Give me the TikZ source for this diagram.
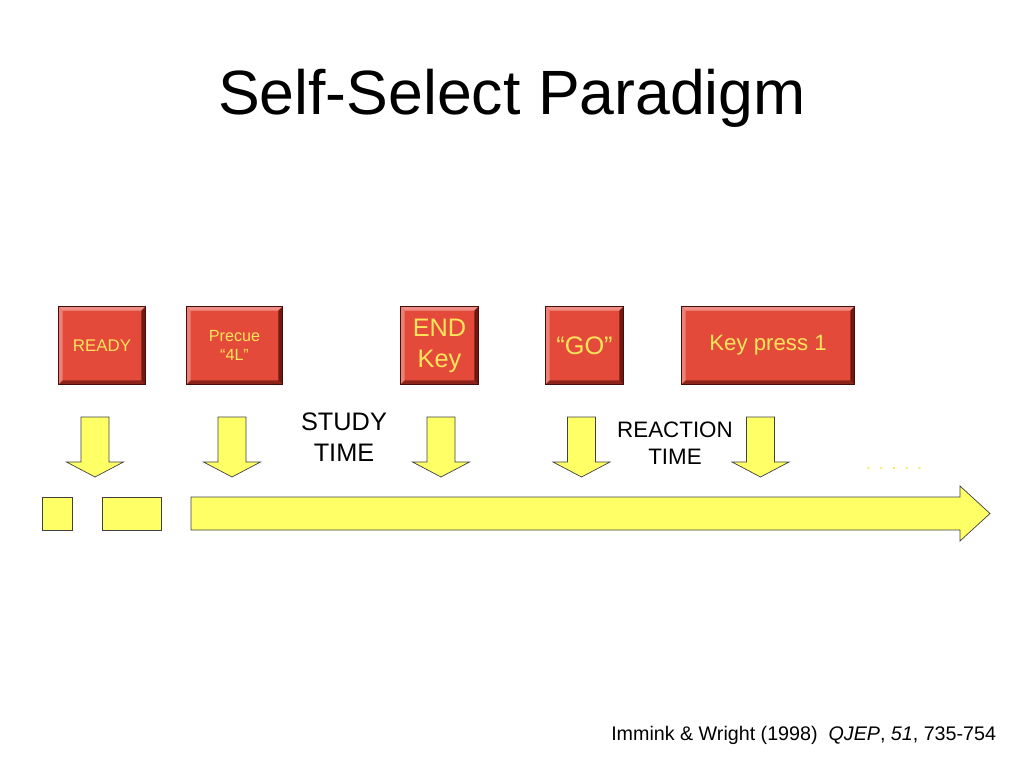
\documentclass[tikz,border=0pt]{standalone}
\usepackage{fontspec}
\setmainfont{Liberation Sans}
\usetikzlibrary{calc}
\definecolor{btnred}{RGB}{228,74,58}
\definecolor{btnlite}{RGB}{238,142,132}
\definecolor{btndark}{RGB}{112,24,18}
\definecolor{btntext}{RGB}{255,228,92}
\definecolor{cueyellow}{RGB}{255,255,102}
\definecolor{dotyellow}{RGB}{240,240,90}

% bevel edges round a button node
\newcommand{\bevelbtn}[1]{%
  \fill[btnlite] (#1.north west) -- (#1.north east) -- ([shift={(-1mm,-1mm)}]#1.north east) -- ([shift={(1mm,-1mm)}]#1.north west) -- cycle;
  \fill[btnlite!80!btnred] (#1.north west) -- ([shift={(1mm,-1mm)}]#1.north west) -- ([shift={(1mm,1mm)}]#1.south west) -- (#1.south west) -- cycle;
  \fill[btndark!75!btnred] (#1.south west) -- (#1.south east) -- ([shift={(-1mm,1mm)}]#1.south east) -- ([shift={(1mm,1mm)}]#1.south west) -- cycle;
  \fill[btndark] (#1.north east) -- (#1.south east) -- ([shift={(-1mm,1mm)}]#1.south east) -- ([shift={(-1mm,-1mm)}]#1.north east) -- cycle;
  \draw[btndark!60!black, line width=0.5pt] (#1.north west) rectangle (#1.south east);}

\begin{document}
\begin{tikzpicture}[
    x=0.025cm, y=-0.025cm,
    btn/.style={rectangle, fill=btnred, inner sep=0pt, minimum height=1.925cm,
                text=btntext, align=center},
    cue/.style={fill=cueyellow, draw=black!75, line width=0.5pt},
    lbl/.style={align=center, text=black},
    dnarr/.pic={\filldraw[cue] (-14,0) -- (14,0) -- (14,45) -- (28.5,45) -- (0,60)
                -- (-28.5,45) -- (-14,45) -- cycle;}
]
\useasboundingbox (0,0) rectangle (1024,768);

\node[lbl, font=\fontsize{44.5}{53}\selectfont] (title) at (512,98) {Self-Select Paradigm};

% buttons
\node[btn, minimum width=2.15cm, font=\fontsize{12}{14}\selectfont] (ready) at (102,345.5) {READY};
\node[btn, minimum width=2.375cm, font=\fontsize{11.5}{14}\selectfont] (precue) at (234.5,345.5) {Precue\\``4L''};
\node[btn, minimum width=1.925cm, font=\fontsize{18}{22}\selectfont] (endkey) at (439.5,345.5) {END\\Key};
\node[btn, minimum width=1.925cm, font=\fontsize{18}{20}\selectfont] (go) at (584.5,345.5) {``GO''};
\node[btn, minimum width=4.3cm, font=\fontsize{15.8}{20}\selectfont] (press) at (768,345.5) {\raisebox{-2.5pt}{Key press 1}};
\bevelbtn{ready}
\bevelbtn{precue}
\bevelbtn{endkey}
\bevelbtn{go}
\bevelbtn{press}

% cue arrows
\pic (a1) at (95,417) {dnarr};
\pic (a2) at (232,417) {dnarr};
\pic (a3) at (441,417) {dnarr};
\pic (a4) at (581.5,417) {dnarr};
\pic (a5) at (760.5,417) {dnarr};

\node[lbl, font=\fontsize{18}{22}\selectfont] (study) at (344,437) {STUDY\\TIME};
\node[lbl, font=\fontsize{15.9}{19}\selectfont] (react) at (675,443) {REACTION\\TIME};
\node[text=dotyellow, font=\fontsize{14}{15}\selectfont] (dots) at (894,468) {. . . . .};

% timeline
\filldraw[cue] (42,497) rectangle (72,530);
\filldraw[cue] (102,497) rectangle (161,530);
\filldraw[cue] (191,497) -- (960,497) -- (960,486) -- (990,513.5) -- (960,541)
    -- (960,530) -- (191,530) -- cycle;

\node[anchor=east, font=\fontsize{14}{16}\selectfont] (cite) at (1001,735)
    {Immink \& Wright (1998)\ \ \textit{QJEP}, \textit{51}, 735-754};
\end{tikzpicture}
\end{document}
